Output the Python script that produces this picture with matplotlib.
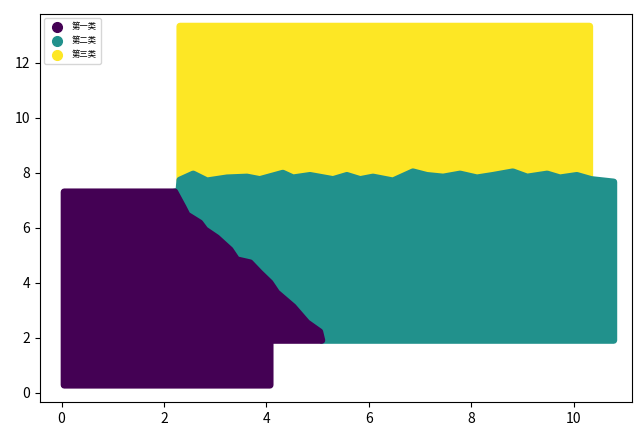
import matplotlib.pyplot as plt
from matplotlib.lines import Line2D

plt.rcParams['font.family'] = ['Noto Sans CJK SC', 'DejaVu Sans']

# class names and colours (viridis ends + middle)
labels = ['第一类', '第二类', '第三类']
colors = ['#440154', '#21918c', '#fde725']

# boundary between class 1 and class 2 (top -> bottom)
diag_x = [2.21, 2.37, 2.45, 2.70, 2.80, 3.03, 3.29, 3.42, 3.68, 3.87, 4.07, 4.20, 4.52, 4.79, 5.04, 5.08]
diag_y = [7.30, 6.75, 6.46, 6.17, 5.92, 5.63, 5.19, 4.83, 4.72, 4.35, 3.99, 3.63, 3.12, 2.54, 2.21, 1.90]

# ragged boundary between class 2 and class 3 (left -> right)
edge_x = [2.31, 2.57, 2.84, 3.23, 3.62, 3.87, 4.32, 4.52, 4.85, 5.30, 5.57, 5.83, 6.08, 6.47,
          6.86, 7.13, 7.45, 7.78, 8.11, 8.42, 8.81, 9.09, 9.48, 9.73, 10.06, 10.34]
edge_y = [7.73, 7.95, 7.70, 7.81, 7.84, 7.75, 7.98, 7.81, 7.90, 7.75, 7.90, 7.75, 7.84, 7.70,
          8.03, 7.90, 7.84, 7.95, 7.81, 7.90, 8.03, 7.84, 7.95, 7.81, 7.90, 7.75]

# outer extents of each class
c1_box = (0.05, 4.07, 0.27, 7.30)     # xmin, xmax, ymin, ymax
c1_step_y = 1.90
c2_box = (2.29, 10.78, 1.90, 7.66)
c3_box = (2.31, 10.31, 7.70, 13.33)

fig = plt.figure(figsize=(6.36, 4.28), dpi=100)
ax = fig.add_axes([0.063, 0.061, 0.931, 0.906])

lw = 5
style = dict(linewidth=lw, joinstyle='round')

# class 3 (yellow)
x3 = [c3_box[0], c3_box[0], c3_box[1], c3_box[1]] + edge_x[::-1]
y3 = [edge_y[0], c3_box[3], c3_box[3], edge_y[-1]] + edge_y[::-1]
ax.fill(x3, y3, facecolor=colors[2], edgecolor=colors[2], **style)

# class 2 (teal)
x2 = edge_x + [c2_box[1], c2_box[1], diag_x[-1]] + diag_x[::-1] + [c2_box[0]]
y2 = edge_y + [c2_box[3], c2_box[2], c2_box[2]] + diag_y[::-1] + [diag_y[0]]
ax.fill(x2, y2, facecolor=colors[1], edgecolor=colors[1], **style)

# class 1 (purple)
x1 = [c1_box[0], c1_box[1], c1_box[1]] + diag_x[::-1] + [c1_box[0]]
y1 = [c1_box[2], c1_box[2], c1_step_y] + diag_y[::-1] + [c1_box[3]]
ax.fill(x1, y1, facecolor=colors[0], edgecolor=colors[0], **style)

ax.set_xlim(-0.42, 11.14)
ax.set_ylim(-0.34, 13.77)
ax.set_xticks([0, 2, 4, 6, 8, 10])
ax.set_yticks([0, 2, 4, 6, 8, 10, 12])
ax.tick_params(labelsize=10)

handles = [Line2D([], [], marker='o', linestyle='none', markersize=7,
                  markerfacecolor=c, markeredgecolor=c) for c in colors]
ax.legend(handles, labels, loc='upper left', fontsize=6, handletextpad=0.8,
          borderpad=0.5, labelspacing=0.6)

plt.savefig('out.png', dpi=100)
